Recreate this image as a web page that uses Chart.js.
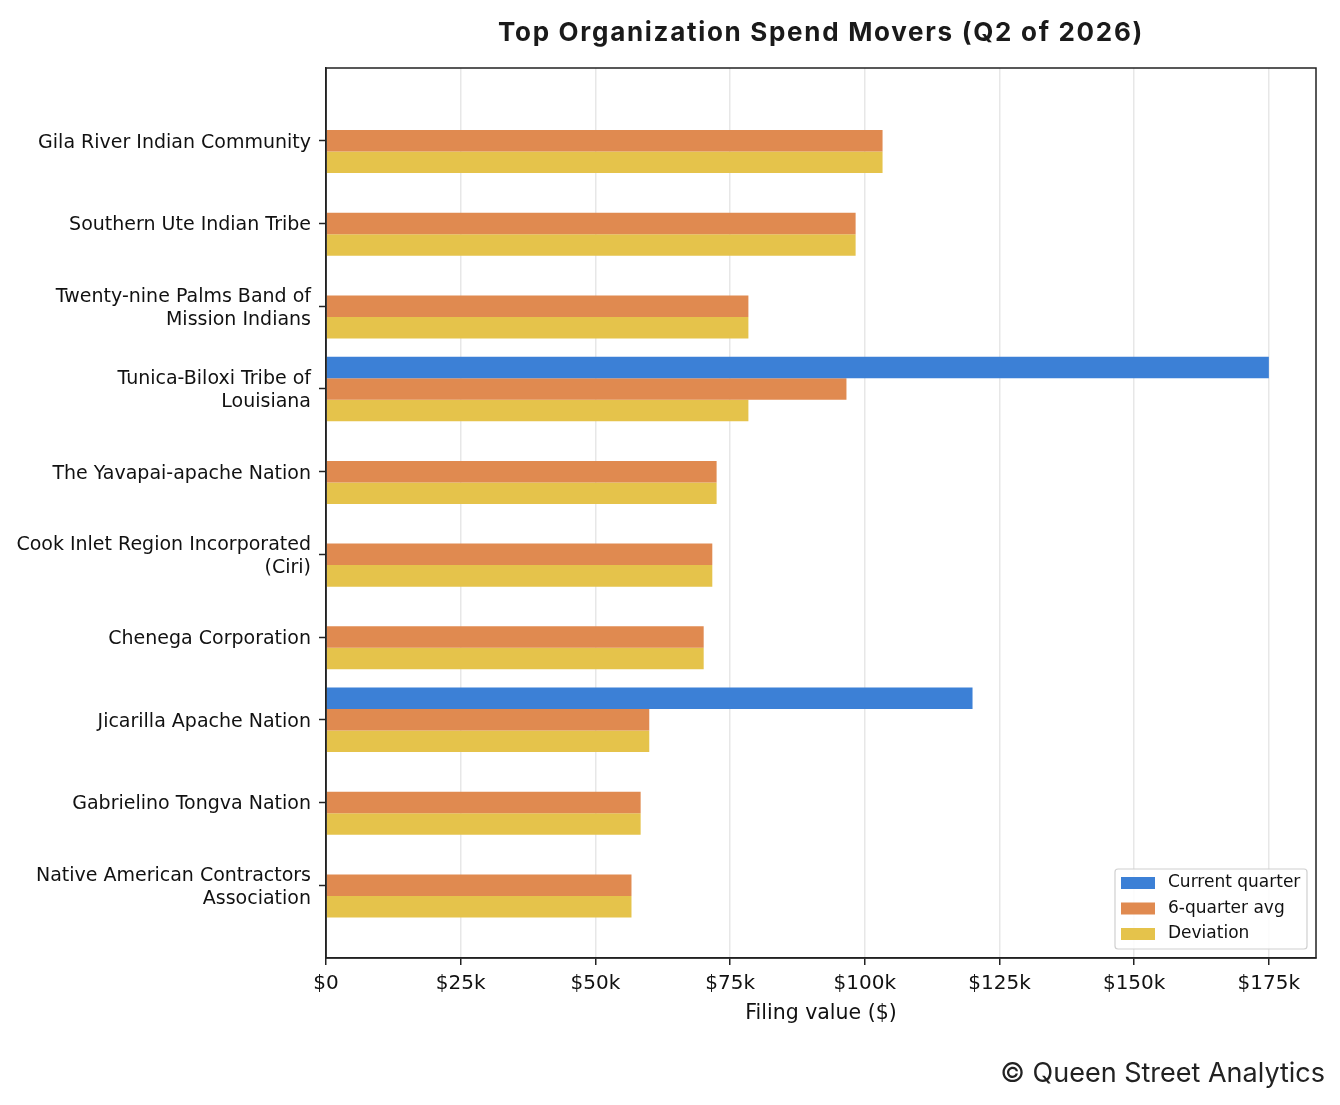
<!DOCTYPE html>
<html>
<head>
<meta charset="utf-8">
<script src="https://cdn.jsdelivr.net/npm/chart.js@4.4.1/dist/chart.umd.min.js"></script>
<style>
  html, body { margin: 0; padding: 0; background: #fff; }
  #wrap { position: relative; width: 1340px; height: 1105px; }
</style>
</head>
<body>
<div id="wrap"><canvas id="chart"></canvas></div>
<script>
// 图表数据
const categories = [
  'Gila River Indian Community',
  'Southern Ute Indian Tribe',
  ['Twenty-nine Palms Band of', 'Mission Indians'],
  ['Tunica-Biloxi Tribe of', 'Louisiana'],
  'The Yavapai-apache Nation',
  ['Cook Inlet Region Incorporated', '(Ciri)'],
  'Chenega Corporation',
  'Jicarilla Apache Nation',
  'Gabrielino Tongva Nation',
  ['Native American Contractors', 'Association']
];
const currentQuarter = [null, null, null, 175000, null, null, null, 120000, null, null];
const sixQuarterAvg = [103300, 98300, 78400, 96600, 72500, 71700, 70100, 60000, 58400, 56700];
const deviation = [103300, 98300, 78400, 78400, 72500, 71700, 70100, 60000, 58400, 56700];
const xTicks = [0, 25000, 50000, 75000, 100000, 125000, 150000, 175000];

const seriesNames = ['Current quarter', '6-quarter avg', 'Deviation'];
const seriesColors = ['#3c80d6', '#e08a50', '#e5c34b'];

const INK = '#111';

function toPoints(values) {
  return values.map((v, i) => ({ x: v, y: i }));
}

// 标题、边框、图例、版权
const decorPlugin = {
  id: 'decor',
  afterDraw(chart) {
    const ctx = chart.ctx;
    const a = chart.chartArea;
    ctx.save();

    // 四周边框
    ctx.strokeStyle = '#222';
    ctx.lineWidth = 1.5;
    ctx.strokeRect(a.left, a.top, a.right - a.left, a.bottom - a.top);

    // 标题
    ctx.fillStyle = '#1a1a1a';
    ctx.font = 'bold 26px Inter';
    ctx.letterSpacing = '1.7px';
    ctx.textAlign = 'center';
    ctx.textBaseline = 'middle';
    ctx.fillText('Top Organization Spend Movers (Q2 of 2026)', (a.left + a.right) / 2, 33);
    ctx.letterSpacing = '0px';

    // 图例
    const boxW = 192, boxH = 80;
    const bx = a.right - 9 - boxW, by = a.bottom - 9 - boxH;
    ctx.beginPath();
    ctx.roundRect(bx, by, boxW, boxH, 3);
    ctx.fillStyle = 'rgba(255,255,255,0.85)';
    ctx.fill();
    ctx.strokeStyle = '#d0d0d0';
    ctx.lineWidth = 1.2;
    ctx.stroke();
    ctx.font = '17px "DejaVu Sans"';
    ctx.textAlign = 'left';
    chart.data.datasets.forEach((ds, i) => {
      const cy = by + 14 + i * 25.5;
      ctx.fillStyle = ds.backgroundColor;
      ctx.fillRect(bx + 6, cy - 6, 34, 12);
      ctx.fillStyle = INK;
      ctx.fillText(ds.label, bx + 53, cy);
    });

    // 版权
    ctx.font = '27px Inter';
    ctx.textAlign = 'right';
    ctx.fillStyle = '#222';
    ctx.fillText('\u00a9 Queen Street Analytics', 1325, 1074);
    ctx.restore();
  }
};

const ctx = document.getElementById('chart').getContext('2d');

new Chart(ctx, {
  type: 'bar',
  data: {
    datasets: [0, 1, 2].map(i => ({
      label: seriesNames[i],
      data: toPoints([currentQuarter, sixQuarterAvg, deviation][i]),
      backgroundColor: seriesColors[i],
      borderWidth: 0,
      categoryPercentage: 0.78,
      barPercentage: 1
    }))
  },
  options: {
    indexAxis: 'y',
    responsive: true,
    maintainAspectRatio: false,
    animation: false,
    layout: {
      padding: { top: 68, right: 24, bottom: 77, left: 0 }
    },
    scales: {
      x: {
        type: 'linear',
        min: 0,
        max: 183750,
        z: 1,
        afterBuildTicks: scale => {
          scale.ticks = xTicks.map(v => ({ value: v }));
        },
        afterFit: scale => { scale.height = 70; },
        ticks: {
          color: INK,
          font: { family: 'DejaVu Sans', size: 20 },
          padding: 7,
          maxRotation: 0,
          callback: v => v === 0 ? '$0' : '$' + (v / 1000) + 'k'
        },
        grid: {
          color: 'rgba(176,176,176,0.3)',
          lineWidth: 1.5,
          tickColor: '#222',
          tickWidth: 1.5,
          tickLength: 7
        },
        border: { display: true, color: '#222', width: 1.5 },
        title: {
          display: true,
          text: 'Filing value ($)',
          color: INK,
          font: { family: 'DejaVu Sans', size: 20.5 },
          padding: { top: 2, bottom: 2 }
        }
      },
      y: {
        type: 'linear',
        reverse: true,
        offset: false,
        min: -0.879,
        max: 9.879,
        afterBuildTicks: scale => {
          scale.ticks = categories.map((c, i) => ({ value: i }));
        },
        afterFit: scale => { scale.width = 326; },
        ticks: {
          color: INK,
          font: { family: 'DejaVu Sans', size: 19 },
          padding: 8,
          labelOffset: 2,
          callback: v => categories[v]
        },
        grid: {
          offset: false,
          drawOnChartArea: false,
          tickColor: '#222',
          tickWidth: 1.5,
          tickLength: 7
        },
        border: { display: true, color: '#222', width: 1.5 }
      }
    },
    plugins: {
      legend: { display: false },
      tooltip: { enabled: false }
    }
  },
  plugins: [decorPlugin]
});
</script>
</body>
</html>
